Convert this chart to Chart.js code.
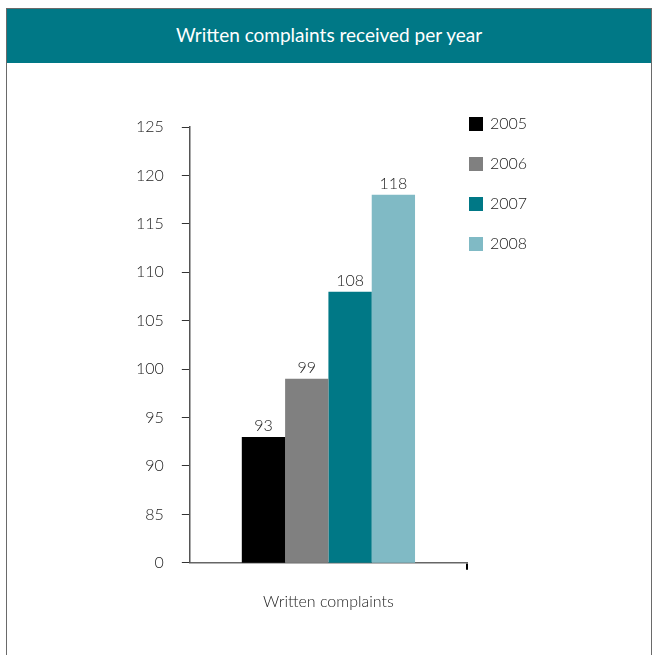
<!DOCTYPE html>
<html>
<head>
<meta charset="utf-8">
<script src="https://cdn.jsdelivr.net/npm/chart.js@4.4.1/dist/chart.umd.min.js"></script>
<style>
    body { margin: 0; background: #fff; }
    #caixa {
        position: absolute; left: 6px; top: 8px; width: 646px; height: 660px;
        border: 1px solid #6a6a6a; border-bottom: none; box-sizing: border-box;
    }
    #cabecalho {
        height: 54px; background: #007886; color: #fff;
        font: 19px Lato, sans-serif; text-align: center; line-height: 52px;
    }
    #grafico { position: absolute; left: 0; top: 0; }
</style>
</head>
<body>
<div id="caixa"><div id="cabecalho">Written complaints received per year</div></div>
<canvas id="grafico" width="660" height="655"></canvas>
<script>
let categorias = ['Written complaints']
let anos = ['2005', '2006', '2007', '2008']
let valores = [93, 99, 108, 118]
let cores = ['#000000', '#808080', '#007886', '#80bac5']

// the axis breaks below 85, so the bottom step is labelled 0
let yTicks = [80, 85, 90, 95, 100, 105, 110, 115, 120, 125]
let yTickText = ['0', '85', '90', '95', '100', '105', '110', '115', '120', '125']

let fonte = 'Lato, sans-serif'
let corTexto = '#222'

let rotulos = {
    id: 'rotulos',
    afterDatasetsDraw(chart) {
        let ctx = chart.ctx
        ctx.save()
        ctx.font = '300 16px ' + fonte
        ctx.fillStyle = corTexto
        ctx.textAlign = 'center'
        ctx.textBaseline = 'bottom'
        chart.data.datasets.forEach((ds, i) => {
            let bar = chart.getDatasetMeta(i).data[0]
            ctx.fillText(String(ds.data[0]), bar.x, bar.y - 3)
        })
        ctx.restore()
    }
}

let legenda = {
    id: 'legenda',
    afterDraw(chart) {
        let ctx = chart.ctx
        ctx.save()
        ctx.font = '300 16px ' + fonte
        ctx.textBaseline = 'middle'
        chart.data.datasets.forEach((ds, i) => {
            let y = 124 + i * 40
            ctx.fillStyle = ds.backgroundColor
            ctx.fillRect(469, y - 7, 14, 14)
            ctx.fillStyle = corTexto
            ctx.fillText(ds.label, 490, y)
        })
        ctx.restore()
    }
}

let ctx = document.getElementById('grafico').getContext('2d')
new Chart(ctx, {
    type: 'bar',
    data: {
        labels: categorias,
        datasets: anos.map((ano, i) => ({
            label: ano,
            data: [valores[i]],
            backgroundColor: cores[i],
            borderWidth: 0
        }))
    },
    options: {
        responsive: false,
        animation: false,
        layout: { padding: { left: 118, right: 193, top: 127, bottom: 22 } },
        datasets: { bar: { categoryPercentage: 0.625, barPercentage: 1 } },
        plugins: { legend: { display: false }, tooltip: { enabled: false } },
        scales: {
            x: {
                border: { color: '#666', width: 1.5 },
                grid: {
                    offset: true,
                    drawOnChartArea: false,
                    tickLength: 7,
                    lineWidth: 2,
                    color: (c) => c.index === 0 ? 'rgba(0,0,0,0)' : '#000'
                },
                ticks: { color: corTexto, font: { family: fonte, size: 16, weight: 300 }, padding: 22 }
            },
            y: {
                min: 80,
                max: 125,
                afterBuildTicks: (axis) => { axis.ticks = yTicks.map(v => ({ value: v })) },
                border: { color: '#555', width: 1.5 },
                grid: { drawOnChartArea: false, tickLength: 8, color: '#333' },
                ticks: {
                    color: corTexto,
                    font: { family: fonte, size: 16, weight: 300 },
                    padding: 18,
                    callback: (v) => yTickText[yTicks.indexOf(v)]
                }
            }
        }
    },
    plugins: [rotulos, legenda]
})
</script>
</body>
</html>
